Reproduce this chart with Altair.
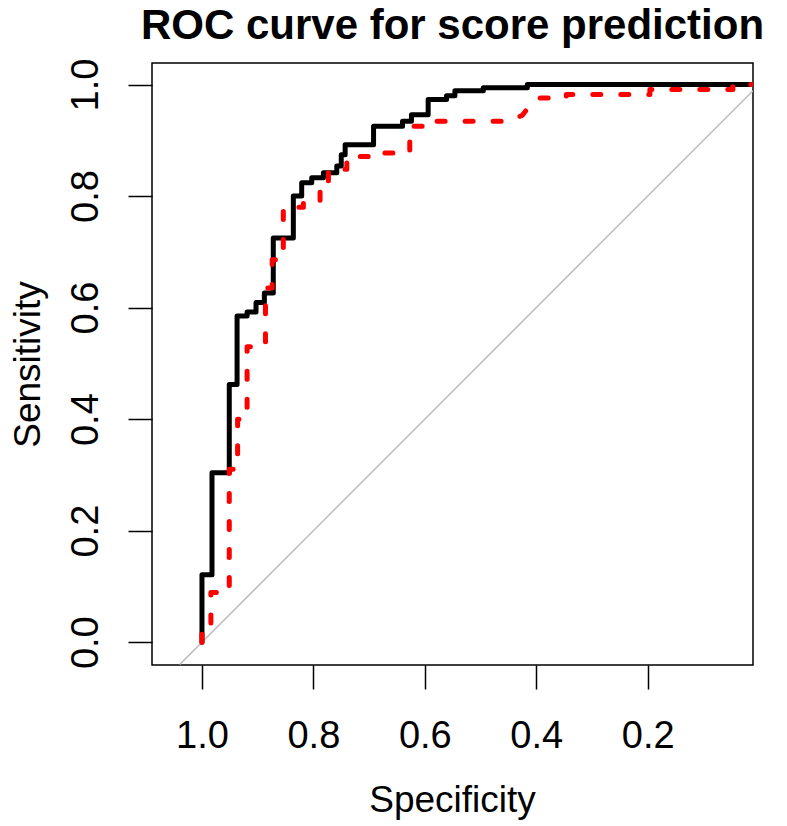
import altair as alt
import pandas as pd

# ROC curve 1 (solid black): vertices (specificity, sensitivity)
black_spec = [1.000, 1.000, 0.982, 0.982, 0.951, 0.951, 0.937, 0.937, 0.919, 0.919,
              0.903, 0.903, 0.888, 0.888, 0.872, 0.872, 0.836, 0.836, 0.821, 0.821,
              0.803, 0.803, 0.782, 0.782, 0.758, 0.758, 0.750, 0.750, 0.743, 0.743,
              0.692, 0.692, 0.640, 0.640, 0.624, 0.624, 0.594, 0.594, 0.561, 0.561,
              0.546, 0.546, 0.495, 0.495, 0.416, 0.416, 0.011]
black_sens = [0.000, 0.121, 0.121, 0.304, 0.304, 0.462, 0.462, 0.585, 0.585, 0.592,
              0.592, 0.609, 0.609, 0.626, 0.626, 0.725, 0.725, 0.800, 0.800, 0.824,
              0.824, 0.833, 0.833, 0.842, 0.842, 0.854, 0.854, 0.874, 0.874, 0.892,
              0.892, 0.925, 0.925, 0.934, 0.934, 0.946, 0.946, 0.973, 0.973, 0.980,
              0.980, 0.989, 0.989, 0.994, 0.994, 1.000, 1.000]

# ROC curve 2 (dashed red)
red_spec = [1.000, 1.000, 0.984, 0.984, 0.951, 0.951, 0.936, 0.936, 0.919, 0.919,
            0.886, 0.886, 0.874, 0.874, 0.854, 0.854, 0.818, 0.818, 0.788, 0.788,
            0.773, 0.773, 0.740, 0.740, 0.700, 0.700, 0.627, 0.627, 0.594, 0.594,
            0.447, 0.425, 0.405, 0.393, 0.346, 0.346, 0.196, 0.196, 0.047, 0.047,
            0.011]
red_sens = [0.000, 0.020, 0.020, 0.089, 0.089, 0.310, 0.310, 0.400, 0.400, 0.530,
            0.530, 0.635, 0.635, 0.686, 0.686, 0.780, 0.780, 0.790, 0.790, 0.824,
            0.824, 0.848, 0.848, 0.871, 0.871, 0.877, 0.877, 0.925, 0.925, 0.934,
            0.934, 0.945, 0.970, 0.976, 0.976, 0.982, 0.982, 0.991, 0.991, 1.000,
            1.000]

# chance diagonal (sensitivity = 1 - specificity), across the plotting box
diag_spec = [1.04, 0.011]
diag_sens = [-0.04, 0.989]

x_ticks = [1.0, 0.8, 0.6, 0.4, 0.2]
y_ticks = [0.0, 0.2, 0.4, 0.6, 0.8, 1.0]

df_black = pd.DataFrame({"spec": black_spec, "sens": black_sens, "i": range(len(black_spec))})
df_red = pd.DataFrame({"spec": red_spec, "sens": red_sens, "i": range(len(red_spec))})
df_diag = pd.DataFrame({"spec": diag_spec, "sens": diag_sens, "i": range(len(diag_spec))})

FONT = "Liberation Sans"

x_enc = alt.X(
    "spec:Q",
    scale=alt.Scale(domain=[1.0897, 0.0109], nice=False, zero=False),
    axis=alt.Axis(
        values=x_ticks, format=".1f", title="Specificity",
        domain=False, grid=False, ticks=True, tickSize=24, tickWidth=1.5, tickColor="black",
        labelFont=FONT, labelFontSize=38, labelColor="black", labelBaseline="alphabetic",
        labelPadding=58, labelFlush=False, labelOverlap=False, labelBound=False,
        titleFont=FONT, titleFontSize=37, titleFontWeight="normal", titleColor="black",
        titleBaseline="alphabetic", titleAlign="center", titleX=300, titleY=146,
    ),
)
y_enc = alt.Y(
    "sens:Q",
    scale=alt.Scale(domain=[-0.0409, 1.0386], nice=False, zero=False),
    axis=alt.Axis(
        values=y_ticks, format=".1f", title="Sensitivity",
        domain=False, grid=False, ticks=True, tickSize=24, tickWidth=1.5, tickColor="black",
        labelFont=FONT, labelFontSize=38, labelColor="black", labelAngle=270,
        labelAlign="center", labelBaseline="alphabetic",
        labelPadding=31, labelFlush=False, labelOverlap=False, labelBound=False,
        titleFont=FONT, titleFontSize=37, titleFontWeight="normal", titleColor="black",
        titleAngle=270, titleAlign="center", titleBaseline="alphabetic",
        titleX=-113, titleY=301,
    ),
)

diag = alt.Chart(df_diag).mark_line(color="#bebebe", strokeWidth=1.5, clip=True).encode(
    x=x_enc, y=y_enc, order="i:Q"
)
black = alt.Chart(df_black).mark_line(
    color="black", strokeWidth=5, strokeJoin="round", strokeCap="round", clip=True
).encode(x=x_enc, y=y_enc, order="i:Q")
red = alt.Chart(df_red).mark_line(
    color="#ff0000", strokeWidth=5, strokeDash=[8, 20], strokeCap="round",
    strokeJoin="round", clip=True
).encode(x=x_enc, y=y_enc, order="i:Q")

chart = alt.layer(diag, black, red).properties(
    width=601,
    height=602,
    title=alt.TitleParams(
        text="ROC curve for score prediction", font=FONT, fontSize=42,
        fontWeight="bold", color="black", anchor="middle", frame="group",
        baseline="alphabetic", offset=-23,
    ),
    autosize=alt.AutoSizeParams(type="none"),
    padding={"left": 144, "top": 55, "right": 20, "bottom": 155},
).configure_view(stroke="black", strokeWidth=1.5)

chart.save("out.html", embed_options={"renderer": "svg", "actions": False})
